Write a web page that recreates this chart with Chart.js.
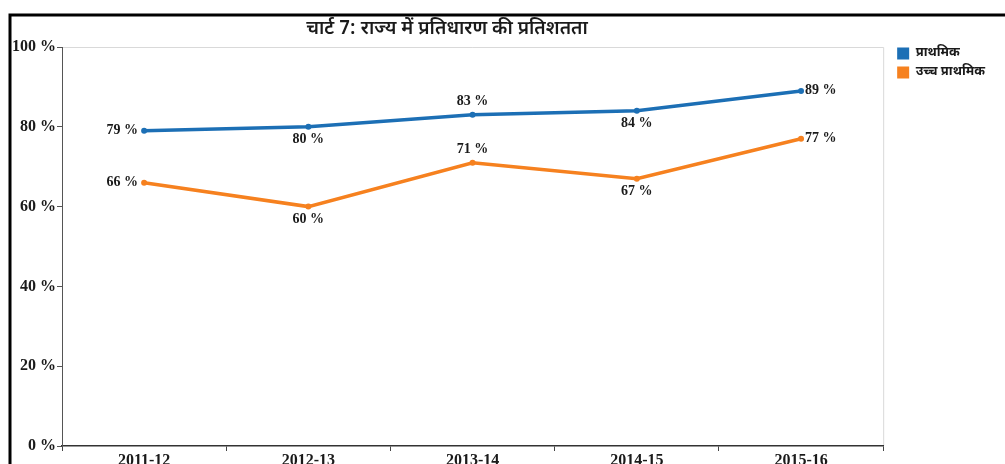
<!DOCTYPE html>
<html>
<head>
<meta charset="utf-8">
<script src="https://cdn.jsdelivr.net/npm/chart.js@4.4.1/dist/chart.umd.min.js"></script>
<style>
  html, body { margin: 0; padding: 0; background: #fff; overflow: hidden; }
  #wrap { width: 1005px; height: 464px; position: relative; }
</style>
</head>
<body>
<div id="wrap"><canvas id="chart"></canvas></div>
<script>
// données
const years = ["2011-12", "2012-13", "2013-14", "2014-15", "2015-16"];
const primaire = [79, 80, 83, 84, 89];
const primaireSup = [66, 60, 71, 67, 77];
const yTicks = [0, 20, 40, 60, 80, 100];
const seriesNames = ["प्राथमिक", "उच्च प्राथमिक"];
const titleText = "चार्ट 7: राज्य में प्रतिधारण की प्रतिशतता";

// où placer chaque étiquette de valeur
const labelPos = [
  ["left", "below", "above", "below", "right"],
  ["left", "below", "above", "below", "right"]
];

const deva = "'Noto Sans Devanagari', 'Lohit Devanagari', 'Noto Sans', FreeSans, sans-serif";
const serif = "'Liberation Serif', 'Times New Roman', serif";

// cadre, titre et bordures du graphique
const decor = {
  id: "decor",
  afterLayout(chart) {
    // décale un peu la légende vers la droite et vers le haut
    const l = chart.legend;
    if (l) { l.left += 8; l.right += 8; l.top -= 6; l.bottom -= 6; }
  },
  beforeDraw(chart) {
    const ctx = chart.ctx;
    const a = chart.chartArea;
    ctx.save();
    ctx.strokeStyle = "#000";
    ctx.lineWidth = 3;
    ctx.beginPath();
    ctx.moveTo(10, 464);
    ctx.lineTo(10, 15);
    ctx.lineTo(1005, 15);
    ctx.stroke();

    ctx.strokeStyle = "#d9d9d9";
    ctx.lineWidth = 1;
    ctx.beginPath();
    ctx.moveTo(a.left, a.top + 0.5);
    ctx.lineTo(a.right + 0.5, a.top + 0.5);
    ctx.lineTo(a.right + 0.5, a.bottom);
    ctx.stroke();

    ctx.fillStyle = "#1a1a1a";
    ctx.font = "600 19px " + deva;
    ctx.textAlign = "center";
    ctx.textBaseline = "middle";
    ctx.fillText(titleText, 447, 30);
    ctx.restore();
  }
};

// étiquettes des valeurs
const valueLabels = {
  id: "valueLabels",
  afterDatasetsDraw(chart) {
    const ctx = chart.ctx;
    ctx.save();
    ctx.font = "bold 14px " + serif;
    ctx.fillStyle = "#1a1a1a";
    ctx.textBaseline = "middle";
    chart.data.datasets.forEach((ds, i) => {
      chart.getDatasetMeta(i).data.forEach((pt, j) => {
        const txt = ds.data[j] + " %";
        let x = pt.x, y = pt.y;
        const pos = labelPos[i][j];
        ctx.textAlign = "center";
        if (pos === "left") { x -= 6; ctx.textAlign = "right"; }
        else if (pos === "right") { x += 4; ctx.textAlign = "left"; }
        else if (pos === "above") { y -= 13; }
        else { y += 13; }
        ctx.fillText(txt, x, y);
      });
    });
    ctx.restore();
  }
};

new Chart(document.getElementById("chart"), {
  type: "line",
  data: {
    labels: years,
    datasets: [
      {
        label: seriesNames[0],
        data: primaire,
        borderColor: "#1c6fb5",
        backgroundColor: "#1c6fb5",
        borderWidth: 3.5,
        pointRadius: 3,
        pointBorderWidth: 0,
        tension: 0
      },
      {
        label: seriesNames[1],
        data: primaireSup,
        borderColor: "#f6811f",
        backgroundColor: "#f6811f",
        borderWidth: 3.5,
        pointRadius: 3,
        pointBorderWidth: 0,
        tension: 0
      }
    ]
  },
  options: {
    responsive: true,
    maintainAspectRatio: false,
    animation: false,
    layout: { padding: { top: 47, left: 0, right: 18, bottom: 0 } },
    plugins: {
      title: { display: false },
      tooltip: { enabled: false },
      legend: {
        position: "right",
        align: "start",
        labels: {
          boxWidth: 12,
          boxHeight: 12,
          padding: 6,
          color: "#1a1a1a",
          font: { family: deva, size: 13, weight: "bold" },
          generateLabels(chart) {
            const items = Chart.defaults.plugins.legend.labels.generateLabels(chart);
            items.forEach(it => { it.lineWidth = 0; });
            return items;
          }
        }
      }
    },
    scales: {
      x: {
        offset: true,
        afterFit(scale) { scale.height = 18; },
        grid: { offset: true, drawOnChartArea: false, tickLength: 5, color: "#444" },
        border: { color: "#333", width: 1.5 },
        ticks: {
          padding: 0,
          color: "#1a1a1a",
          font: { family: serif, size: 16, weight: "bold" }
        }
      },
      y: {
        min: 0,
        max: 100,
        afterFit(scale) { scale.width = 62; },
        afterBuildTicks(scale) { scale.ticks = yTicks.map(v => ({ value: v })); },
        grid: { drawOnChartArea: false, tickLength: 5, color: "#555" },
        border: { color: "#555", width: 1 },
        ticks: {
          padding: 1,
          color: "#1a1a1a",
          font: { family: serif, size: 16, weight: "bold" },
          callback: v => v + " %"
        }
      }
    }
  },
  plugins: [decor, valueLabels]
});
</script>
</body>
</html>
